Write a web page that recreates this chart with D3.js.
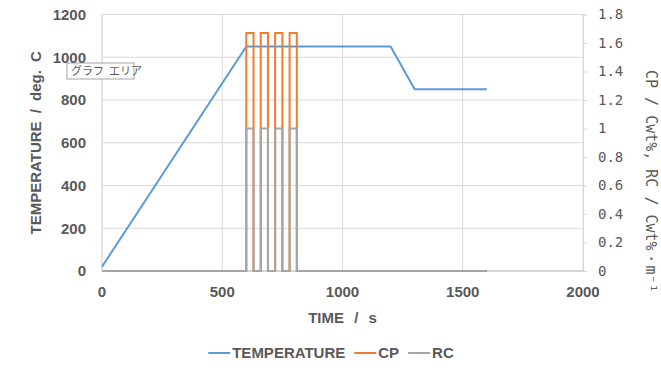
<!DOCTYPE html>
<html lang="ja">
<head>
<meta charset="UTF-8">
<title>Temperature / CP / RC profile</title>
<script src="https://d3js.org/d3.v7.min.js"></script>
<style>
    body { margin: 0; background: #fff; }
    svg { display: block; }
    .lbl { font-family: 'Liberation Sans', Arial, sans-serif; font-weight: bold; fill: #595959; }
    .mono { font-family: 'DejaVu Sans Mono', monospace; fill: #595959; }
</style>
</head>
<body>
<div id="chart"></div>
<script>
// temperature programme
const tempTime = [0, 600, 1200, 1300, 1600];
const tempValue = [20, 1050, 1050, 850, 850];

// CP / RC pulses (step profile)
const pulseTime = [0, 600, 600, 630, 630, 660, 660, 690, 690, 720, 720, 750, 750, 780, 780, 810, 810, 1600];
const cpValue   = [0, 0, 1.67, 1.67, 0, 0, 1.67, 1.67, 0, 0, 1.67, 1.67, 0, 0, 1.67, 1.67, 0, 0];
const rcValue   = [0, 0, 1, 1, 0, 0, 1, 1, 0, 0, 1, 1, 0, 0, 1, 1, 0, 0];

const xTicks = [0, 500, 1000, 1500, 2000];
const yTicksL = [0, 200, 400, 600, 800, 1000, 1200];
const yTicksR = [0, 0.2, 0.4, 0.6, 0.8, 1, 1.2, 1.4, 1.6, 1.8];

const seriesNames = ['TEMPERATURE', 'CP', 'RC'];
const seriesColors = ['#5B9BD5', '#ED7D31', '#A5A5A5'];

const W = 661, H = 368;
const plot = { left: 102, right: 583, top: 14.5, bottom: 271 };

const svg = d3.select('#chart').append('svg')
    .attr('width', W).attr('height', H);

const x = d3.scaleLinear().domain([0, 2000]).range([plot.left, plot.right]);
const yL = d3.scaleLinear().domain([0, 1200]).range([plot.bottom, plot.top]);
const yR = d3.scaleLinear().domain([0, 1.8]).range([plot.bottom, plot.top]);

// gridlines
svg.append('g').selectAll('line.h').data(yTicksL).join('line')
    .attr('x1', plot.left).attr('x2', plot.right)
    .attr('y1', d => yL(d)).attr('y2', d => yL(d))
    .attr('stroke', '#D9D9D9').attr('stroke-width', 1);
svg.append('g').selectAll('line.v').data(xTicks).join('line')
    .attr('x1', d => x(d)).attr('x2', d => x(d))
    .attr('y1', plot.top).attr('y2', plot.bottom)
    .attr('stroke', '#D9D9D9').attr('stroke-width', 1);

// axes lines
svg.append('line').attr('x1', plot.left).attr('x2', plot.left)
    .attr('y1', plot.top).attr('y2', plot.bottom).attr('stroke', '#D9D9D9');
svg.append('line').attr('x1', plot.left).attr('x2', plot.right)
    .attr('y1', plot.bottom).attr('y2', plot.bottom).attr('stroke', '#BFBFBF');

// right axis with outside ticks
const rAxis = svg.append('g').attr('transform', `translate(${plot.right},0)`)
    .call(d3.axisRight(yR).tickValues(yTicksR).tickSize(4).tickFormat(d => d));
rAxis.select('.domain').attr('stroke', '#D9D9D9');
rAxis.selectAll('.tick line').attr('stroke', '#D9D9D9');
rAxis.selectAll('.tick text').attr('class', 'mono').attr('x', 15)
    .style('font-size', '14px').attr('fill', '#595959');

// left tick labels
svg.append('g').selectAll('text').data(yTicksL).join('text')
    .attr('class', 'lbl')
    .attr('x', 86).attr('y', d => yL(d)).attr('dy', '0.36em')
    .attr('text-anchor', 'end').style('font-size', '15px')
    .text(d => d);

// bottom tick labels
svg.append('g').selectAll('text').data(xTicks).join('text')
    .attr('class', 'lbl')
    .attr('x', d => x(d)).attr('y', 292).attr('dy', '0.36em')
    .attr('text-anchor', 'middle').style('font-size', '15px')
    .text(d => d);

// axis titles
svg.append('text').attr('class', 'lbl')
    .attr('transform', `translate(36,${(plot.top + plot.bottom) / 2}) rotate(-90)`)
    .attr('text-anchor', 'middle').attr('dy', '0.36em').style('font-size', '15px')
    .style('word-spacing', '4px')
    .text('TEMPERATURE / deg. C');
svg.append('text').attr('class', 'lbl')
    .attr('x', (plot.left + plot.right) / 2).attr('y', 318).attr('dy', '0.36em')
    .attr('text-anchor', 'middle').style('font-size', '15px')
    .style('word-spacing', '6px')
    .text('TIME / s');
svg.append('text').attr('class', 'mono')
    .attr('transform', 'translate(646,70) rotate(90)')
    .attr('text-anchor', 'start').style('font-size', '15px')
    .text('CP / Cwt%, RC / Cwt%・m⁻¹');

// series
const tempLine = d3.line().x(d => x(d[0])).y(d => yL(d[1]));
const pulseLine = d3.line().x(d => x(d[0])).y(d => yR(d[1]));

svg.append('path')
    .datum(d3.zip(tempTime, tempValue))
    .attr('d', tempLine).attr('fill', 'none')
    .attr('stroke', seriesColors[0]).attr('stroke-width', 2)
    .attr('stroke-linejoin', 'round');
svg.append('path')
    .datum(d3.zip(pulseTime, cpValue))
    .attr('d', pulseLine).attr('fill', 'none')
    .attr('stroke', seriesColors[1]).attr('stroke-width', 2);
svg.append('path')
    .datum(d3.zip(pulseTime, rcValue))
    .attr('d', pulseLine).attr('fill', 'none')
    .attr('stroke', seriesColors[2]).attr('stroke-width', 2);

// legend
const legend = svg.append('g');
let lx = 0;
seriesNames.forEach((name, i) => {
    const item = legend.append('g').attr('transform', `translate(${lx},0)`);
    item.append('line').attr('x1', 0).attr('x2', 22).attr('y1', 0).attr('y2', 0)
        .attr('stroke', seriesColors[i]).attr('stroke-width', 2);
    const t = item.append('text').attr('class', 'lbl')
        .attr('x', 24).attr('dy', '0.36em').style('font-size', '15px').text(name);
    lx += 24 + t.node().getComputedTextLength() + 9;
});
lx -= 9;
legend.attr('transform', `translate(${331 - lx / 2},353)`);

// chart-area hint box
const hint = svg.append('g').attr('transform', 'translate(67,63)');
hint.append('rect').attr('width', 67).attr('height', 16)
    .attr('fill', '#fff').attr('stroke', '#8c8c8c').attr('stroke-width', 0.8);
hint.append('text').attr('x', 4).attr('y', 8).attr('dy', '0.36em')
    .style('font-family', "'Noto Sans CJK JP', sans-serif").style('font-size', '11px')
    .style('white-space', 'pre')
    .attr('fill', '#595959').text('グラフ  エリア');
</script>
</body>
</html>
